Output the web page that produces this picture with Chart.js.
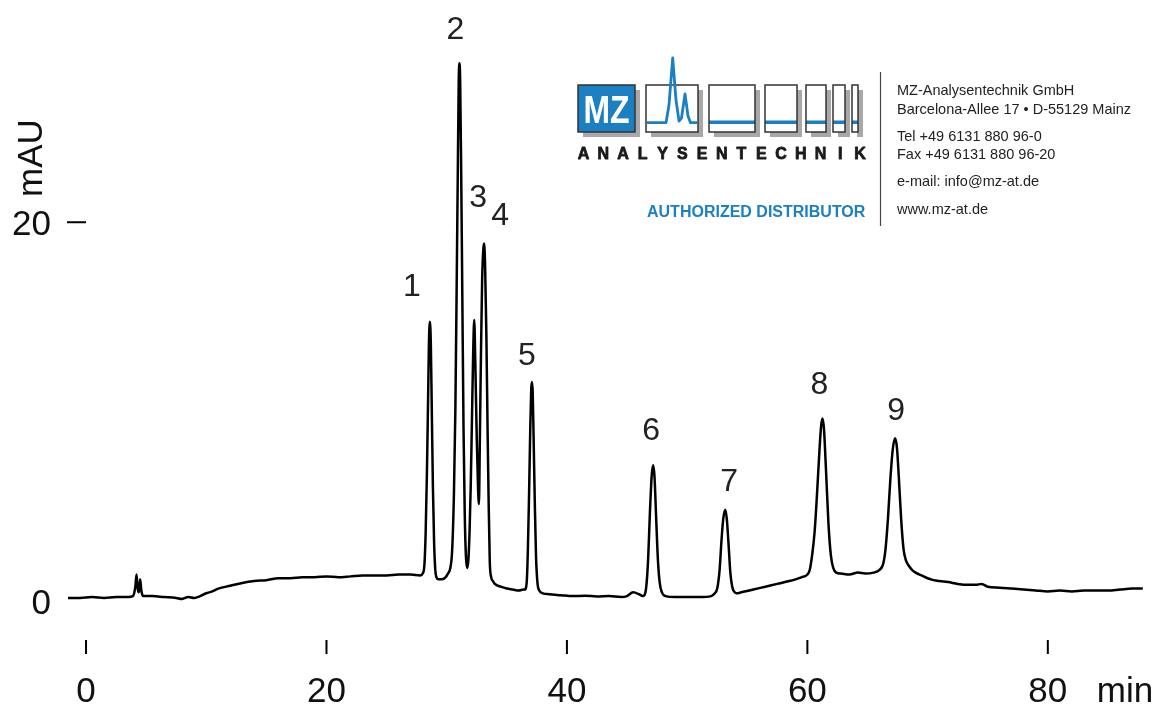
<!DOCTYPE html>
<html>
<head>
<meta charset="utf-8">
<script src="https://cdn.jsdelivr.net/npm/chart.js@4/dist/chart.umd.min.js"></script>
<style>
  html, body { margin: 0; padding: 0; background: #fff; }
  #wrap { width: 1160px; height: 707px; }
</style>
</head>
<body>
<div id="wrap"><canvas id="grafica" width="1160" height="707"></canvas></div>
<script>
const tiempos = [
  -1.5, -0.5, 0.5, 1.5, 2.5, 3.5, 3.9, 4.1, 4.2, 4.3, 4.4, 4.5, 4.6, 4.75, 5.5, 6.5, 7.5, 8.0, 8.5, 9.0,
  9.5, 10.0, 10.5, 11.0, 12.0, 13.0, 14.0, 15.0, 16.0, 17.0, 18.0, 19.0, 20.0, 21.0, 22.0, 23.0, 24.0, 25.0, 26.0, 27.0,
  27.8, 28.0, 28.15, 28.25, 28.35, 28.45, 28.52, 28.6, 28.68, 28.76, 28.85, 28.95, 29.05, 29.15, 29.3, 29.6, 29.9, 30.1,
  30.3, 30.45, 30.6, 30.72, 30.82, 30.92, 31.0, 31.06, 31.12, 31.2, 31.3, 31.4, 31.5, 31.6, 31.7,
  31.8, 31.9, 32.0, 32.1, 32.2, 32.29, 32.38, 32.5, 32.6, 32.68,
  32.75, 32.85, 32.95, 33.05, 33.12, 33.2, 33.3, 33.4, 33.48, 33.58, 33.7, 33.85, 34.0, 34.5, 35.0, 35.5, 36.0, 36.4,
  36.5, 36.65, 36.75, 36.85, 36.95, 37.03, 37.09, 37.15, 37.23, 37.33, 37.43, 37.55, 37.7, 38.0, 38.5,
  39.5, 40.5, 41.5, 42.5, 43.5, 44.5, 45.0, 45.5, 46.0, 46.3,
  46.45, 46.6, 46.75, 46.9, 47.05, 47.17, 47.28, 47.42, 47.57, 47.72, 47.9, 48.2, 49.0, 50.0, 51.0, 52.0,
  52.3, 52.5, 52.7, 52.85, 53.0, 53.17, 53.3, 53.45, 53.6, 53.75, 53.9, 54.1,
  54.5, 55.5, 56.5, 57.5, 58.5, 59.5, 60.0,
  60.2, 60.4, 60.6, 60.8, 61.0, 61.15, 61.26, 61.38, 61.55, 61.75, 61.95, 62.15, 62.4, 62.8, 63.5, 64.2, 64.8, 65.5, 66.0,
  66.3, 66.5, 66.7, 66.9, 67.1, 67.3, 67.45, 67.6, 67.8, 68.0, 68.2, 68.45, 68.7, 69.0, 69.5, 70.0, 70.5, 71.0, 71.7,
  72.5, 73.4, 74.0, 74.5, 75.0, 76.0, 77.0, 78.0, 79.0, 80.0, 81.0, 82.0, 83.0, 84.0, 85.0, 86.0, 87.0, 87.9
];
const senal = [
  0.0, 0.0, 0.05, 0.0, 0.05, 0.05, 0.1, 0.6, 1.25, 0.5, 0.3, 1.0, 0.4, 0.1, 0.1, 0.05, 0.0, -0.05, 0.05, 0.0,
  0.1, 0.25, 0.35, 0.5, 0.65, 0.8, 0.9, 0.95, 1.05, 1.05, 1.1, 1.1, 1.15, 1.1, 1.15, 1.2, 1.2, 1.2, 1.25, 1.25,
  1.2, 1.3, 1.8, 3.5, 6.5, 10.5, 13.5, 14.7, 13.5, 10.0, 6.0, 3.0, 1.5, 1.1, 1.0, 1.0, 1.1, 1.3,
  1.6, 2.5, 5.5, 10.0, 16.0, 22.5, 27.5, 28.46, 27.5, 23.0, 16.0, 9.0, 4.5, 2.2, 1.6,
  2.0, 3.5, 6.0, 9.5, 13.0, 14.8, 12.5, 8.5, 6.0, 5.0,
  8.0, 13.0, 17.0, 18.6, 18.87, 17.5, 14.0, 9.0, 5.5, 2.0, 1.1, 0.9, 0.75, 0.6, 0.5, 0.45, 0.4, 0.45,
  0.45, 0.8, 2.5, 5.5, 9.0, 11.1, 11.5, 11.0, 8.5, 5.0, 2.2, 0.8, 0.4, 0.25, 0.2,
  0.15, 0.1, 0.12, 0.08, 0.1, 0.05, 0.1, 0.3, 0.2, 0.1,
  0.15, 0.6, 2.0, 4.5, 6.5, 7.07, 6.5, 4.3, 2.0, 0.8, 0.3, 0.1, 0.05, 0.05, 0.05, 0.1,
  0.25, 0.5, 1.5, 3.0, 4.2, 4.7, 4.2, 2.8, 1.3, 0.6, 0.35, 0.25,
  0.3, 0.45, 0.6, 0.75, 0.9, 1.1, 1.25,
  1.5, 2.3, 3.5, 5.5, 7.8, 9.2, 9.56, 9.0, 6.8, 4.0, 2.3, 1.6, 1.35, 1.3, 1.25, 1.35, 1.3, 1.35, 1.5,
  1.8, 2.6, 4.2, 6.3, 7.9, 8.5, 8.0, 6.5, 4.2, 2.6, 2.0, 1.7, 1.5, 1.35, 1.2, 1.05, 0.95, 0.9, 0.85,
  0.75, 0.7, 0.7, 0.75, 0.6, 0.55, 0.5, 0.45, 0.4, 0.35, 0.4, 0.35, 0.4, 0.4, 0.4, 0.45, 0.5, 0.5
];

// picos numerados
const picosNombre = ['1', '2', '3', '4', '5', '6', '7', '8', '9'];
const picosTiempo = [28.6, 31.06, 32.29, 33.12, 37.09, 47.17, 53.17, 61.26, 67.3];
const picosAltura = [14.7, 28.46, 14.8, 18.87, 11.5, 7.07, 4.7, 9.56, 8.5];

// ejes
const ticksX = [0, 20, 40, 60, 80];
const ticksY = [0, 20];
const tituloX = 'min';
const tituloY = 'mAU';

// desplazamiento de las etiquetas respecto al vértice del pico (px)
const desplazEtiquetas = [[-18, -37], [-4, -36], [4, -124], [16, -30], [-5, -28], [-2, -37], [4, -30], [-3, -36], [1, -30]];

const FUENTE = '"Liberation Sans", Arial, sans-serif';
const AZUL = '#1b7fc3';

function dibujarLogo(ctx) {
    // cajas del logotipo MZ
    const cajas = [[578, 85, 57, 47], [646, 85, 52, 47], [709, 85, 46, 47], [765, 85, 32, 47],
                   [806, 85, 20, 47], [833, 85, 12, 47], [852, 85, 6, 47]];
    ctx.save();
    cajas.forEach(([x, y, w, h]) => {
        ctx.fillStyle = '#a8a8a8';
        ctx.fillRect(x + 5, y + 5, w, h);
    });
    cajas.forEach(([x, y, w, h], i) => {
        ctx.fillStyle = i === 0 ? AZUL : '#fff';
        ctx.fillRect(x, y, w, h);
        if (i > 1) {
            ctx.fillStyle = AZUL;
            ctx.fillRect(x, y + 35.5, w, 3.5);
        }
        ctx.strokeStyle = '#333';
        ctx.lineWidth = 1.5;
        ctx.strokeRect(x, y, w, h);
    });
    // mini cromatograma
    ctx.strokeStyle = AZUL;
    ctx.lineWidth = 2.8;
    ctx.lineJoin = 'round';
    ctx.beginPath();
    ctx.moveTo(647, 122.7);
    ctx.lineTo(666, 122.7);
    ctx.lineTo(669, 105);
    ctx.lineTo(672.7, 58);
    ctx.lineTo(676, 100);
    ctx.lineTo(679, 121);
    ctx.lineTo(681.5, 118);
    ctx.lineTo(685, 94);
    ctx.lineTo(688, 116);
    ctx.lineTo(690.5, 122.7);
    ctx.lineTo(697, 122.7);
    ctx.stroke();

    // MZ
    ctx.fillStyle = '#fff';
    ctx.font = 'bold 38px ' + FUENTE;
    ctx.textAlign = 'center';
    ctx.textBaseline = 'alphabetic';
    ctx.save();
    ctx.translate(606.5, 123);
    ctx.scale(0.84, 1);
    ctx.fillText('MZ', 0, 0);
    ctx.restore();

    // ANALYSENTECHNIK
    ctx.fillStyle = '#1a1a1a';
    ctx.font = 'bold 16px ' + FUENTE;
    ctx.lineWidth = 0.8;
    ctx.strokeStyle = '#1a1a1a';
    const palabra = 'ANALYSENTECHNIK';
    for (let i = 0; i < palabra.length; i++) {
        ctx.fillText(palabra[i], 583.5 + i * 19.75, 159);
        ctx.strokeText(palabra[i], 583.5 + i * 19.75, 159);
    }

    ctx.fillStyle = AZUL;
    ctx.font = 'bold 16px ' + FUENTE;
    ctx.textAlign = 'left';
    ctx.fillText('AUTHORIZED DISTRIBUTOR', 647, 217);

    // separador
    ctx.strokeStyle = '#444';
    ctx.lineWidth = 1.2;
    ctx.beginPath();
    ctx.moveTo(880.5, 72);
    ctx.lineTo(880.5, 226);
    ctx.stroke();

    // datos de contacto
    ctx.fillStyle = '#222';
    ctx.font = '14.5px ' + FUENTE;
    const lineas = [
        ['MZ-Analysentechnik GmbH', 95],
        ['Barcelona-Allee 17 \u2022 D-55129 Mainz', 114],
        ['Tel +49 6131 880 96-0', 140.5],
        ['Fax +49 6131 880 96-20', 159],
        ['e-mail: info@mz-at.de', 186],
        ['www.mz-at.de', 214]
    ];
    lineas.forEach(([t, y]) => ctx.fillText(t, 897, y));
    ctx.restore();
}

const decoracion = {
    id: 'decoracion',
    afterDraw(chart) {
        const ctx = chart.ctx;
        const ex = chart.scales.x;
        const ey = chart.scales.y;
        const abajo = chart.chartArea.bottom;
        ctx.save();
        ctx.strokeStyle = '#000';
        ctx.fillStyle = '#111';
        ctx.lineWidth = 2;

        // marcas y etiquetas del eje X
        ctx.font = '35px ' + FUENTE;
        ctx.textAlign = 'center';
        ctx.textBaseline = 'alphabetic';
        ticksX.forEach(v => {
            const px = ex.getPixelForValue(v);
            ctx.beginPath();
            ctx.moveTo(px, abajo + 2);
            ctx.lineTo(px, abajo + 16);
            ctx.stroke();
            ctx.fillText(String(v), px, 702);
        });
        ctx.fillText(tituloX, 1125, 702);

        // eje Y
        ctx.textAlign = 'right';
        ticksY.forEach(v => {
            const py = ey.getPixelForValue(v);
            if (v !== 0) {
                ctx.beginPath();
                ctx.moveTo(67, py);
                ctx.lineTo(86, py);
                ctx.stroke();
            }
            ctx.fillText(String(v), 51, py + 13 + (v === 0 ? 3 : 0));
        });
        ctx.save();
        ctx.translate(42, 158);
        ctx.rotate(-Math.PI / 2);
        ctx.textAlign = 'center';
        ctx.fillText(tituloY, 0, 0);
        ctx.restore();

        // números de pico
        ctx.fillStyle = '#222';
        ctx.font = '32px ' + FUENTE;
        ctx.textAlign = 'center';
        picosNombre.forEach((n, i) => {
            const px = ex.getPixelForValue(picosTiempo[i]) + desplazEtiquetas[i][0];
            const py = ey.getPixelForValue(picosAltura[i]) + desplazEtiquetas[i][1];
            ctx.fillText(n, px, py + 11.5);
        });
        ctx.restore();

        dibujarLogo(ctx);
    }
};

const puntos = tiempos.map((t, i) => ({ x: t, y: senal[i] }));

const grafica = new Chart(document.getElementById('grafica'), {
    type: 'line',
    data: {
        datasets: [{
            data: puntos,
            borderColor: '#000',
            borderWidth: 2.5,
            pointRadius: 0,
            fill: false,
            cubicInterpolationMode: 'monotone',
            clip: false
        }]
    },
    options: {
        responsive: false,
        animation: false,
        layout: { padding: { left: 68, right: 16, top: 40, bottom: 69 } },
        plugins: { legend: { display: false }, tooltip: { enabled: false } },
        scales: {
            x: { type: 'linear', min: -1.5, max: 88, display: false },
            y: { min: -2.13, max: 29.7, display: false }
        }
    },
    plugins: [decoracion]
});
</script>
</body>
</html>
